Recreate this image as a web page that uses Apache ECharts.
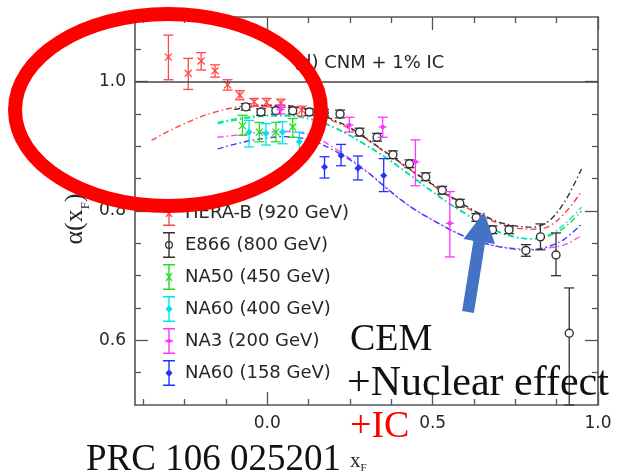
<!DOCTYPE html>
<html>
<head>
<meta charset="utf-8">
<script src="https://cdn.jsdelivr.net/npm/echarts@6/dist/echarts.min.js"></script>
<style>
  html, body { margin: 0; padding: 0; background: #ffffff; }
  #chart { width: 617px; height: 473px; }
</style>
</head>
<body>
<div id="chart"></div>
<script>
// Nuclear modification alpha(x_F) for J/psi production: data sets and CNM + 1% IC model curves

// ---- axis ticks ----
const xMajorTicks = [0.0, 0.5, 1.0];
const xMinorTicks = [-0.375, -0.25, -0.125, 0.125, 0.25, 0.375, 0.625, 0.75, 0.875];
const yMajorTicks = [0.6, 0.8, 1.0];
const yMinorTicks = [0.55, 0.65, 0.7, 0.75, 0.85, 0.9, 0.95, 1.05];

// ---- experiments (legend order) ----
const experimentNames = ['HERA-B (920 GeV)', 'E866 (800 GeV)', 'NA50 (450 GeV)', 'NA60 (400 GeV)', 'NA3 (200 GeV)', 'NA60 (158 GeV)'];

// ---- measurements: [x_F, alpha, alpha_low, alpha_high] ----
const heraB = [
  [-0.299, 1.038, 1.003, 1.072], [-0.239, 1.013, 0.988, 1.036], [-0.200, 1.032, 1.018, 1.045],
  [-0.158, 1.017, 1.007, 1.026], [-0.120, 0.995, 0.987, 1.003], [-0.083, 0.979, 0.972, 0.986],
  [-0.040, 0.969, 0.962, 0.974], [-0.002, 0.968, 0.961, 0.974], [0.041, 0.967, 0.960, 0.973],
  [0.104, 0.956, 0.947, 0.962]
];
const e866 = [
  [-0.065, 0.961, 0.956, 0.966], [-0.019, 0.953, 0.948, 0.958], [0.026, 0.955, 0.950, 0.960],
  [0.077, 0.955, 0.950, 0.960], [0.127, 0.953, 0.948, 0.958], [0.172, 0.952, 0.947, 0.957],
  [0.220, 0.950, 0.944, 0.956], [0.279, 0.922, 0.916, 0.928], [0.332, 0.914, 0.908, 0.920],
  [0.380, 0.887, 0.881, 0.893], [0.430, 0.873, 0.867, 0.879], [0.479, 0.853, 0.847, 0.859],
  [0.529, 0.832, 0.826, 0.838], [0.582, 0.812, 0.806, 0.818], [0.632, 0.790, 0.784, 0.796],
  [0.681, 0.771, 0.765, 0.777], [0.731, 0.771, 0.765, 0.777], [0.782, 0.739, 0.730, 0.748],
  [0.826, 0.760, 0.740, 0.780], [0.873, 0.732, 0.700, 0.766], [0.913, 0.611, 0.500, 0.681]
];
const na50 = [
  [-0.075, 0.932, 0.917, 0.948], [-0.024, 0.922, 0.907, 0.937],
  [0.026, 0.922, 0.907, 0.937], [0.077, 0.930, 0.914, 0.943]
];
const na60High = [
  [-0.055, 0.922, 0.899, 0.940], [-0.004, 0.920, 0.902, 0.935],
  [0.046, 0.922, 0.904, 0.938], [0.097, 0.907, 0.886, 0.922]
];
const na3 = [
  [0.040, 0.957, 0.950, 0.964], [0.248, 0.933, 0.922, 0.945], [0.349, 0.930, 0.914, 0.945],
  [0.448, 0.876, 0.839, 0.910], [0.552, 0.781, 0.729, 0.830]
];
const na60Low = [
  [0.173, 0.868, 0.851, 0.884], [0.223, 0.886, 0.870, 0.903],
  [0.274, 0.866, 0.848, 0.885], [0.352, 0.855, 0.830, 0.881]
];

// ---- model curves (CNM + 1% IC) ----
const curveXHeraB = [-0.35, -0.3, -0.25, -0.2, -0.15, -0.1, -0.05, 0, 0.05, 0.1, 0.15, 0.2, 0.25, 0.3, 0.35, 0.4, 0.45, 0.5, 0.55, 0.6, 0.65, 0.7, 0.75, 0.8, 0.85, 0.9, 0.95];
const curveXE866 = [-0.1, -0.05, 0, 0.05, 0.1, 0.15, 0.2, 0.25, 0.3, 0.35, 0.4, 0.45, 0.5, 0.55, 0.6, 0.65, 0.7, 0.75, 0.8, 0.85, 0.9, 0.95];
const curveXSps = [-0.15, -0.1, -0.05, 0, 0.05, 0.1, 0.15, 0.2, 0.25, 0.3, 0.35, 0.4, 0.45, 0.5, 0.55, 0.6, 0.65, 0.7, 0.75, 0.8, 0.85, 0.9, 0.95];

const curveHeraB = [0.909, 0.923, 0.935, 0.946, 0.954, 0.960, 0.963, 0.964, 0.963, 0.959, 0.950, 0.939, 0.927, 0.911, 0.893, 0.875, 0.857, 0.840, 0.822, 0.806, 0.792, 0.781, 0.774, 0.772, 0.776, 0.797, 0.830];
const curveE866 = [0.957, 0.961, 0.963, 0.963, 0.960, 0.952, 0.941, 0.929, 0.912, 0.894, 0.876, 0.858, 0.841, 0.824, 0.808, 0.794, 0.783, 0.777, 0.775, 0.784, 0.815, 0.865];
const curveNa50 = [0.937, 0.942, 0.946, 0.948, 0.948, 0.946, 0.940, 0.930, 0.917, 0.902, 0.886, 0.868, 0.849, 0.830, 0.812, 0.796, 0.781, 0.768, 0.760, 0.757, 0.761, 0.775, 0.800];
const curveNa60High = [0.935, 0.940, 0.944, 0.947, 0.947, 0.945, 0.939, 0.929, 0.916, 0.901, 0.885, 0.867, 0.848, 0.829, 0.811, 0.795, 0.780, 0.767, 0.759, 0.757, 0.763, 0.780, 0.806];
const curveNa3 = [0.914, 0.917, 0.920, 0.922, 0.923, 0.921, 0.913, 0.898, 0.881, 0.862, 0.840, 0.819, 0.801, 0.786, 0.772, 0.760, 0.751, 0.745, 0.742, 0.741, 0.743, 0.748, 0.762];
const curveNa60Low = [0.896, 0.903, 0.909, 0.913, 0.915, 0.913, 0.906, 0.894, 0.879, 0.861, 0.840, 0.819, 0.801, 0.786, 0.772, 0.760, 0.751, 0.745, 0.741, 0.740, 0.745, 0.757, 0.780];

// ---- styling ----
const dataColors = ['#ff4848', '#333333', '#22dd22', '#00e4ee', '#ff33ff', '#2233ff'];
const curveColors = ['#ff4040', '#333333', '#22dd22', '#00e0e0', '#ff40ff', '#3344ff'];
const markerKinds = ['cross', 'circle', 'cross', 'diamond', 'plus', 'diamond'];
const frameColor = '#555555';
const textColor = '#262626';
const sansFont = '"DejaVu Sans", sans-serif';
const serifFont = '"Liberation Serif", "Times New Roman", serif';

// legend icons: error bar with the marker of each data set (12 x 26 box)
const barPath = 'M0,0 L12,0 L12,1.4 L6.7,1.4 L6.7,24.6 L12,24.6 L12,26 L0,26 L0,24.6 L5.3,24.6 L5.3,1.4 L0,1.4 Z';
const iconMarks = {
  cross: ' M2.5,9.5 L3.5,8.5 L9.5,16.5 L8.5,17.5 Z M8.5,8.5 L9.5,9.5 L3.5,17.5 L2.5,16.5 Z',
  circle: ' M2,13 A4,4 0 1,1 10,13 A4,4 0 1,1 2,13 Z M3.3,13 A2.7,2.7 0 1,0 8.7,13 A2.7,2.7 0 1,0 3.3,13 Z',
  diamond: ' M6,9 L9.5,13 L6,17 L2.5,13 Z',
  plus: ' M2,12.3 L10,12.3 L10,13.7 L2,13.7 Z M6,10.8 A2.2,2.2 0 1,1 6,15.2 A2.2,2.2 0 1,1 6,10.8 Z'
};
const legendIcons = markerKinds.map(k => 'path://' + barPath + iconMarks[k]);

function makeErrorBarRenderer(kind) {
  return function (params, api) {
    const x = api.value(0);
    const c = api.coord([x, api.value(1)]);
    const lo = api.coord([x, api.value(2)]);
    const hi = api.coord([x, api.value(3)]);
    const color = api.visual('color');
    const ls = () => ({ stroke: color, lineWidth: 1.3, fill: null });
    const cap = 5;
    const kids = [
      { type: 'line', shape: { x1: c[0], y1: lo[1], x2: c[0], y2: hi[1] }, style: ls() },
      { type: 'line', shape: { x1: c[0] - cap, y1: lo[1], x2: c[0] + cap, y2: lo[1] }, style: ls() },
      { type: 'line', shape: { x1: c[0] - cap, y1: hi[1], x2: c[0] + cap, y2: hi[1] }, style: ls() }
    ];
    const s = 3.5;
    if (kind === 'cross') {
      kids.push({ type: 'line', shape: { x1: c[0] - s, y1: c[1] - s, x2: c[0] + s, y2: c[1] + s }, style: ls() });
      kids.push({ type: 'line', shape: { x1: c[0] - s, y1: c[1] + s, x2: c[0] + s, y2: c[1] - s }, style: ls() });
    } else if (kind === 'circle') {
      kids.push({ type: 'circle', shape: { cx: c[0], cy: c[1], r: 4 }, style: { stroke: color, lineWidth: 1.4, fill: '#ffffff' } });
    } else if (kind === 'diamond') {
      kids.push({ type: 'polygon', shape: { points: [[c[0], c[1] - s], [c[0] + s, c[1]], [c[0], c[1] + s], [c[0] - s, c[1]]] }, style: { fill: color } });
    } else if (kind === 'plus') {
      kids.push({ type: 'line', shape: { x1: c[0] - 4, y1: c[1], x2: c[0] + 4, y2: c[1] }, style: ls() });
      kids.push({ type: 'circle', shape: { cx: c[0], cy: c[1], r: 2.2 }, style: { fill: color } });
    }
    return { type: 'group', children: kids };
  };
}

const measurementSets = [heraB, e866, na50, na60High, na3, na60Low];
const curveSets = [
  [curveXHeraB, curveHeraB], [curveXE866, curveE866], [curveXSps, curveNa50],
  [curveXSps, curveNa60High], [curveXSps, curveNa3], [curveXSps, curveNa60Low]
];

const series = [];
curveSets.forEach(([xs, ys], i) => {
  const s = {
    type: 'line',
    name: experimentNames[i] + ' model',
    data: xs.map((x, j) => [x, ys[j]]),
    smooth: 0.35,
    showSymbol: false,
    silent: true,
    z: 2,
    lineStyle: { color: curveColors[i], width: 1.4, type: [6, 3, 1.5, 3] }
  };
  if (i === 0) {
    s.markLine = {
      silent: true, symbol: 'none', label: { show: false },
      lineStyle: { color: '#444444', type: 'solid', width: 1.6 },
      data: [{ yAxis: 1.0 }]
    };
  }
  series.push(s);
});
measurementSets.forEach((set, i) => {
  series.push({
    type: 'custom',
    name: experimentNames[i],
    data: set,
    encode: { x: 0, y: 1 },
    itemStyle: { color: dataColors[i] },
    renderItem: makeErrorBarRenderer(markerKinds[i]),
    z: 3
  });
});

function axisBase(extra) {
  return Object.assign({
    type: 'value',
    splitLine: { show: false },
    axisLine: { show: false, onZero: false },
    axisLabel: { show: false }
  }, extra);
}
const tickLine = { color: frameColor, width: 1.3 };
const frameLine = { show: true, onZero: false, lineStyle: { color: frameColor, width: 1.6 } };
const tickLabel = { fontFamily: sansFont, fontSize: 17, color: textColor };

const xRange = { min: -0.4, max: 1.0 };
const yRange = { min: 0.5, max: 1.1 };

const option = {
  animation: false,
  backgroundColor: '#ffffff',
  grid: { left: 135, right: 19, top: 17, bottom: 68, containLabel: false },
  xAxis: [
    axisBase(Object.assign({ position: 'bottom', axisLine: frameLine,
      axisTick: { inside: true, length: 13, lineStyle: tickLine, customValues: xMajorTicks },
      axisLabel: Object.assign({ show: true, margin: 10, customValues: xMajorTicks, formatter: v => v.toFixed(1) }, tickLabel) }, xRange)),
    axisBase(Object.assign({ position: 'bottom',
      axisTick: { inside: true, length: 6, lineStyle: tickLine, customValues: xMinorTicks } }, xRange)),
    axisBase(Object.assign({ position: 'top', axisLine: frameLine,
      axisTick: { inside: true, length: 13, lineStyle: tickLine, customValues: xMajorTicks } }, xRange)),
    axisBase(Object.assign({ position: 'top',
      axisTick: { inside: true, length: 6, lineStyle: tickLine, customValues: xMinorTicks } }, xRange))
  ],
  yAxis: [
    axisBase(Object.assign({ position: 'left', axisLine: frameLine,
      axisTick: { inside: true, length: 13, lineStyle: tickLine, customValues: yMajorTicks },
      axisLabel: Object.assign({ show: true, margin: 9, customValues: yMajorTicks, formatter: v => v.toFixed(1) }, tickLabel) }, yRange)),
    axisBase(Object.assign({ position: 'left',
      axisTick: { inside: true, length: 6, lineStyle: tickLine, customValues: yMinorTicks } }, yRange)),
    axisBase(Object.assign({ position: 'right', axisLine: frameLine,
      axisTick: { inside: true, length: 13, lineStyle: tickLine, customValues: yMajorTicks } }, yRange)),
    axisBase(Object.assign({ position: 'right',
      axisTick: { inside: true, length: 6, lineStyle: tickLine, customValues: yMinorTicks } }, yRange))
  ],
  legend: {
    orient: 'vertical',
    left: 163,
    top: 200,
    padding: 0,
    itemWidth: 12,
    itemHeight: 26,
    itemGap: 6,
    selectedMode: false,
    data: experimentNames.map((n, i) => ({ name: n, icon: legendIcons[i] })),
    textStyle: { fontFamily: sansFont, fontSize: 18, color: textColor, padding: [0, 0, 0, 5] }
  },
  series: series,
  graphic: [
    { type: 'text', x: 293, y: 63, z: 50,
      style: { text: '(d) CNM + 1% IC', font: '18px ' + sansFont, fill: textColor, align: 'left', verticalAlign: 'middle' } },
    { type: 'text', x: 75, y: 219, rotation: Math.PI / 2, z: 50,
      style: { text: 'α(x{s|F})', font: '26px ' + serifFont, fill: textColor, align: 'center', verticalAlign: 'middle',
        rich: { s: { fontSize: 13, fontFamily: serifFont, verticalAlign: 'bottom', lineHeight: 34 } } } },
    { type: 'text', x: 350, y: 461, z: 50,
      style: { text: 'x{s|F}', font: '21px ' + serifFont, fill: textColor, align: 'left', verticalAlign: 'middle',
        rich: { s: { fontSize: 11, fontFamily: serifFont, verticalAlign: 'bottom', lineHeight: 26 } } } },
    { type: 'text', x: 86, y: 460, z: 60,
      style: { text: 'PRC 106 025201', font: '37px ' + serifFont, fill: '#111111', align: 'left', verticalAlign: 'middle' } },
    { type: 'text', x: 350, y: 340, z: 60,
      style: { text: 'CEM', font: '38px ' + serifFont, fill: '#111111', align: 'left', verticalAlign: 'middle' } },
    { type: 'text', x: 347, y: 384, z: 60,
      style: { text: '+Nuclear effect', font: '42px ' + serifFont, fill: '#111111', align: 'left', verticalAlign: 'middle' } },
    { type: 'text', x: 350, y: 427, z: 60,
      style: { text: '+IC', font: '38px ' + serifFont, fill: '#ff0000', align: 'left', verticalAlign: 'middle' } },
    { type: 'polygon', z: 100,
      shape: { points: [[462.1, 311.1], [473.4, 240.7], [463.5, 239.1], [484, 212], [495.1, 244.1], [485.2, 242.6], [473.9, 313.0]] },
      style: { fill: '#4472c4' } },
    { type: 'ellipse', z: 100,
      shape: { cx: 168, cy: 110, rx: 153, ry: 96 },
      style: { fill: 'transparent', stroke: '#ff0000', lineWidth: 14 } }
  ]
};

const chart = echarts.init(document.getElementById('chart'), null, { renderer: 'canvas' });
chart.setOption(option);
</script>
</body>
</html>
